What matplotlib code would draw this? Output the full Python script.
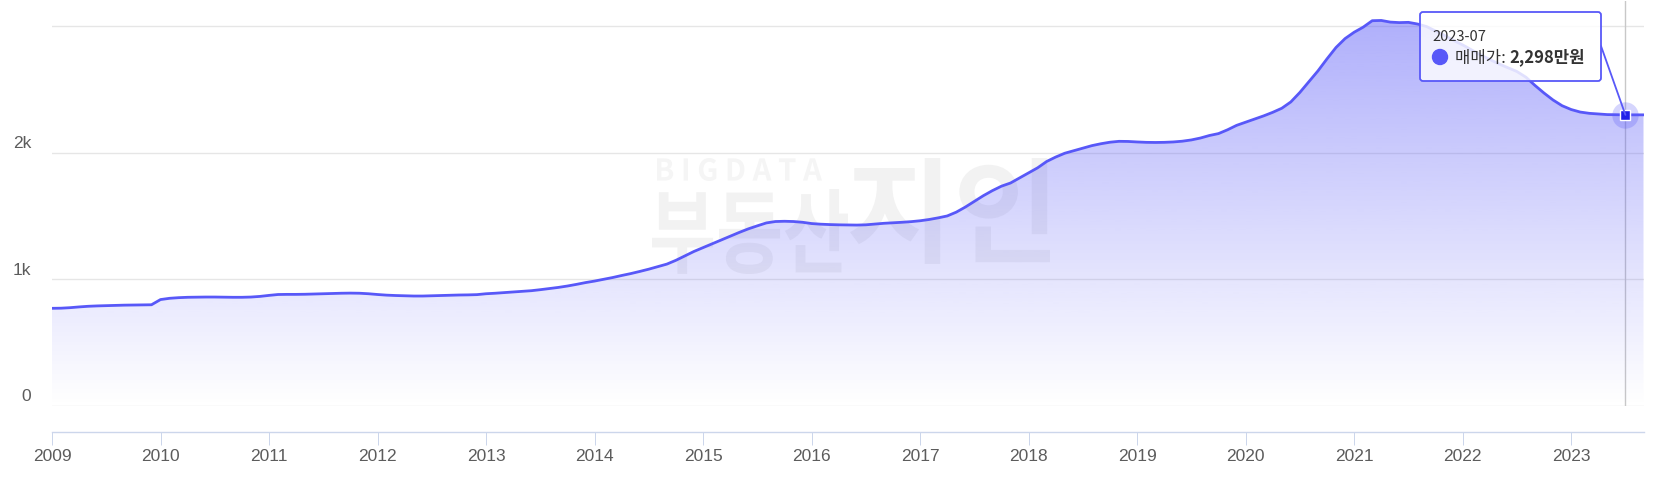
import numpy as np
import matplotlib
matplotlib.use("Agg")
import matplotlib.pyplot as plt
from matplotlib.transforms import Affine2D
from matplotlib.patches import FancyBboxPatch, PathPatch, Polygon, ConnectionPatch, Circle
from matplotlib.textpath import TextPath
from matplotlib.font_manager import FontProperties
from matplotlib.text import Annotation

# ---------------- data ----------------
start_year = 2009
# monthly 매매가 (만원), 2009-01 .. 2023-09
prices = [
    771, 772, 776, 782, 787, 790, 792, 794, 796, 797, 798, 799,          # 2009
    840, 850, 855, 858, 859, 860, 860, 859, 858, 858, 860, 865,          # 2010
    873, 880, 881, 881, 882, 884, 886, 888, 890, 891, 890, 886,          # 2011
    880, 875, 872, 870, 868, 868, 870, 872, 874, 876, 877, 879,          # 2012
    886, 890, 895, 900, 905, 910, 918, 927, 936, 947, 960, 974,          # 2013
    986, 1000, 1014, 1030, 1045, 1062, 1080, 1100, 1120, 1150, 1185, 1220,  # 2014
    1250, 1280, 1310, 1340, 1370, 1398, 1422, 1445, 1456, 1458, 1456, 1450,  # 2015
    1440, 1435, 1432, 1430, 1429, 1428, 1430, 1436, 1442, 1446, 1450, 1455,  # 2016
    1462, 1472, 1485, 1500, 1530, 1570, 1615, 1660, 1700, 1735, 1760, 1800,  # 2017
    1840, 1880, 1930, 1965, 1995, 2015, 2035, 2055, 2070, 2082, 2089, 2088,  # 2018
    2084, 2081, 2080, 2081, 2084, 2090, 2100, 2115, 2135, 2150, 2180, 2215,  # 2019
    2240, 2265, 2290, 2318, 2350, 2400, 2475, 2560, 2645, 2740, 2830, 2900,  # 2020
    2950, 2990, 3041, 3043, 3030, 3026, 3028, 3015, 2995, 2960, 2925, 2885,  # 2021
    2850, 2810, 2770, 2735, 2700, 2670, 2640, 2595, 2530, 2470, 2415, 2370,  # 2022
    2340, 2320, 2310, 2305, 2300, 2299, 2298, 2298, 2298,                 # 2023
]
month_index = np.arange(len(prices))
x_vals = start_year + month_index / 12.0

year_ticks = list(range(2009, 2024))
year_labels = [str(y) for y in year_ticks]
y_ticks = [0, 1000, 2000, 3000]
y_labels = ["0", "1k", "2k", ""]

hover_label = "2023-07"
hover_x = 2023 + 6 / 12.0
hover_value = 2298
series_name = "매매가"

# ---------------- style ----------------
W, H = 1662, 481
LINE = "#5858f8"
GRID = "#e6e6e6"
AXIS = "#ccd6eb"
LABEL = "#5c5c5c"
KR = ["Noto Sans CJK KR", "DejaVu Sans"]
NUM = ["Liberation Sans", "DejaVu Sans"]

fig = plt.figure(figsize=(W / 100, H / 100), dpi=100)
fig.patch.set_facecolor("white")

px_per_k = 126.7
ax_left, ax_right = 52, 1643.5
ax_top, ax_bottom = 2, 407
ax = fig.add_axes([ax_left / W, 1 - ax_bottom / H, (ax_right - ax_left) / W, (ax_bottom - ax_top) / H])
xmax = 2023 + 8 / 12.0
ytop = (ax_bottom - ax_top) / px_per_k * 1000

# pixel (top-origin) -> figure transform
PX = Affine2D().scale(1 / W, -1 / H).translate(0, 1) + fig.transFigure

# ---------------- watermark ----------------
def fitted_text(s, box, color, weight="bold", z=0.5):
    L, T, R, B = box
    tp = TextPath((0, 0), s, size=100, prop=FontProperties(family=KR[0], weight=weight))
    ext = tp.get_extents()
    sx = (R - L) / ext.width
    sy = (B - T) / ext.height
    tr = Affine2D().translate(-ext.x0, -ext.y0).scale(sx, -sy).translate(L, B) + PX
    patch = PathPatch(tp, transform=tr, facecolor=color, edgecolor="none", zorder=z, clip_on=False)
    ax.add_artist(patch)

fitted_text("B I G D A T A", (657, 159, 822, 182), "#f5f5f5", weight="bold")
fitted_text("부동산", (652, 190, 848, 275), "#f2f2f2")
fitted_text("지인", (850, 159, 1050, 265), "#f2f2f2")

# ---------------- grid ----------------
for v in y_ticks:
    ax.axhline(v, color=GRID, lw=1, zorder=0.8)
for v, lab in zip(y_ticks, y_labels):
    ax.annotate(lab, xy=(0, v), xycoords=("axes fraction", "data"),
                xytext=(-21, 10), textcoords="offset pixels",
                ha="right", va="center", color=LABEL, fontsize=12.5, family=NUM)

# ---------------- crosshair ----------------
ax.axvline(hover_x, color="#c8c8c8", lw=1, zorder=1.5)

# ---------------- gradient area ----------------
grad = np.linspace(0.0, 0.5, 256)
rgba = np.zeros((256, 1, 4))
rgba[..., :3] = matplotlib.colors.to_rgb(LINE)
rgba[:, 0, 3] = grad
im = ax.imshow(rgba, extent=[x_vals[0], x_vals[-1], 0, ytop], origin="lower",
               aspect="auto", zorder=2, interpolation="bilinear")
verts = np.vstack([[x_vals[0], 0], np.column_stack([x_vals, prices]), [x_vals[-1], 0]])
poly = Polygon(verts, closed=True, facecolor="none", edgecolor="none", transform=ax.transData)
ax.add_patch(poly)
im.set_clip_path(poly)

ax.plot(x_vals, prices, color=LINE, lw=2.0, zorder=3, solid_joinstyle="round")

# hover marker
ax.plot([hover_x], [hover_value], "o", ms=19, color=LINE, alpha=0.25, zorder=4, mec="none")
ax.plot([hover_x], [hover_value], "s", ms=7.5, mfc="#2020e8", mec="white", mew=1, zorder=5)

ax.set_xlim(2009, xmax)
ax.set_ylim(0, ytop)

# ---------------- axes ----------------
for s in ["top", "right", "left"]:
    ax.spines[s].set_visible(False)
ax.spines["bottom"].set_position(("outward", 26 * 0.72))
ax.spines["bottom"].set_color(AXIS)
ax.spines["bottom"].set_linewidth(1)
ax.set_yticks([])
ax.set_xticks(year_ticks)
ax.set_xticklabels(year_labels, family=NUM, fontsize=12.5, color=LABEL)
ax.tick_params(axis="x", length=13 * 0.72, width=0.72, color=AXIS, pad=2)
ax.set_facecolor("none")

# ---------------- tooltip ----------------
box = FancyBboxPatch((1420, 13), 181, 69, boxstyle="round,pad=0,rounding_size=3",
                     transform=PX, facecolor=(1, 1, 1, 0.82), edgecolor=LINE, lw=1.3,
                     zorder=10)
fig.add_artist(box)
con = ConnectionPatch(xyA=(1601 / W, 1 - 47 / H), coordsA="figure fraction",
                      xyB=(hover_x, hover_value), coordsB="data", axesB=ax,
                      color=LINE, lw=1.3, zorder=9)
fig.add_artist(con)
fig.text(1432 / W, 1 - 37 / H, hover_label, ha="left", va="center",
         fontsize=10.5, color="#333333", family=KR, zorder=11)
fig.add_artist(Circle((1440, 58), 7.5, transform=PX, color=LINE, zorder=11))
t1 = fig.text(1455 / W, 1 - 58 / H, f"{series_name}: ", ha="left", va="center",
              fontsize=12, color="#333333", family=KR, zorder=11)
fig.add_artist(Annotation(f"{hover_value:,}만원", xy=(1, 0), xycoords=t1,
               ha="left", va="bottom", fontsize=12, fontweight="bold", color="#333333",
               family=KR, zorder=11))

fig.savefig("out.png", dpi=100)
